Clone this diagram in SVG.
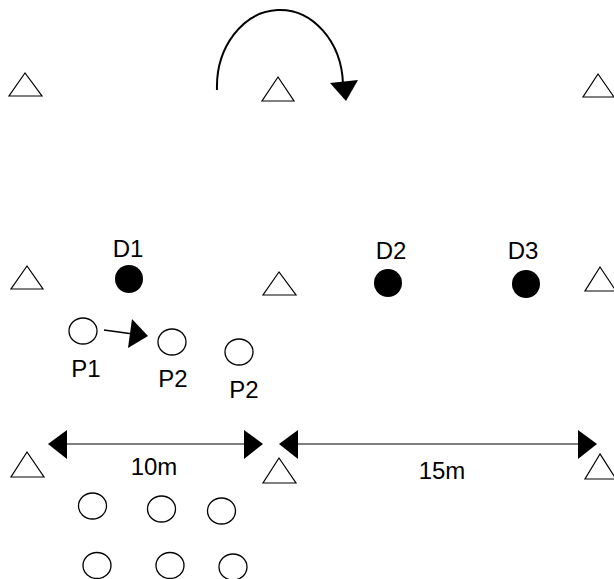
<svg xmlns="http://www.w3.org/2000/svg" width="614" height="579" viewBox="0 0 614 579">
<style>
.cone{fill:#fff;stroke:#000;stroke-width:1.2}
.def{fill:#000}
.pl{fill:#fff;stroke:#000;stroke-width:1.3}
.lbl{font-family:"Liberation Sans",Arial,sans-serif;font-size:24px;fill:#000;text-anchor:middle}
.dim{stroke:#555;stroke-width:1.6;fill:none}
.head{fill:#000}
</style>
<rect width="614" height="579" fill="#fff"/>
<g id="cones">
<polygon class="cone" points="25,73 9,96 42,96"/>
<polygon class="cone" points="278,77 262,101 294,101"/>
<polygon class="cone" points="598,74 583,97 614,97"/>
<polygon class="cone" points="27,266 11,289 43,289"/>
<polygon class="cone" points="279,272 263,295 296,295"/>
<polygon class="cone" points="600,267 585,291 616,291"/>
<polygon class="cone" points="27,452 11,477 44,477"/>
<polygon class="cone" points="279,458 263,483 296,483"/>
<polygon class="cone" points="600,454 585,479 616,479"/>
</g>
<g id="D1"><circle class="def" cx="129" cy="279" r="14"/><text class="lbl" x="128" y="257">D1</text></g>
<g id="D2"><circle class="def" cx="388" cy="283" r="14"/><text class="lbl" x="391" y="259">D2</text></g>
<g id="D3"><circle class="def" cx="526" cy="284" r="14"/><text class="lbl" x="523" y="259">D3</text></g>
<g id="P1"><ellipse class="pl" cx="83" cy="331" rx="14" ry="13"/><text class="lbl" x="86" y="377">P1</text></g>
<g id="P2a"><ellipse class="pl" cx="172" cy="342" rx="14" ry="13"/><text class="lbl" x="173" y="387">P2</text></g>
<g id="P2b"><ellipse class="pl" cx="239" cy="352" rx="14" ry="13"/><text class="lbl" x="244" y="398">P2</text></g>
<g id="queue">
<ellipse class="pl" cx="92.5" cy="506" rx="14" ry="13"/>
<ellipse class="pl" cx="161.5" cy="509" rx="14" ry="13"/>
<ellipse class="pl" cx="221.5" cy="511" rx="14" ry="13"/>
<ellipse class="pl" cx="97" cy="565.5" rx="14" ry="13"/>
<ellipse class="pl" cx="170" cy="565.5" rx="14" ry="13"/>
<ellipse class="pl" cx="233" cy="567" rx="14" ry="13"/>
</g>
<g id="connectors">
<path d="M217,90 A63,77 0 0 1 343,84" fill="none" stroke="#000" stroke-width="2"/>
<polygon class="head" points="330,83 358,80 346,101"/>
<line x1="104" y1="330" x2="133" y2="334" stroke="#000" stroke-width="1.5"/>
<polygon class="head" points="132,319 148,336 128,348"/>
<line class="dim" x1="62" y1="444" x2="250" y2="444"/>
<polygon class="head" points="48,444 67,430 67,459"/>
<polygon class="head" points="263,444 244,430 244,459"/>
<line class="dim" x1="292" y1="444" x2="584" y2="444"/>
<polygon class="head" points="279,444 298,430 298,459"/>
<polygon class="head" points="597,444 578,430 578,459"/>
</g>
<g id="dims">
<text class="lbl" x="154" y="475">10m</text>
<text class="lbl" x="442" y="479">15m</text>
</g>
</svg>
